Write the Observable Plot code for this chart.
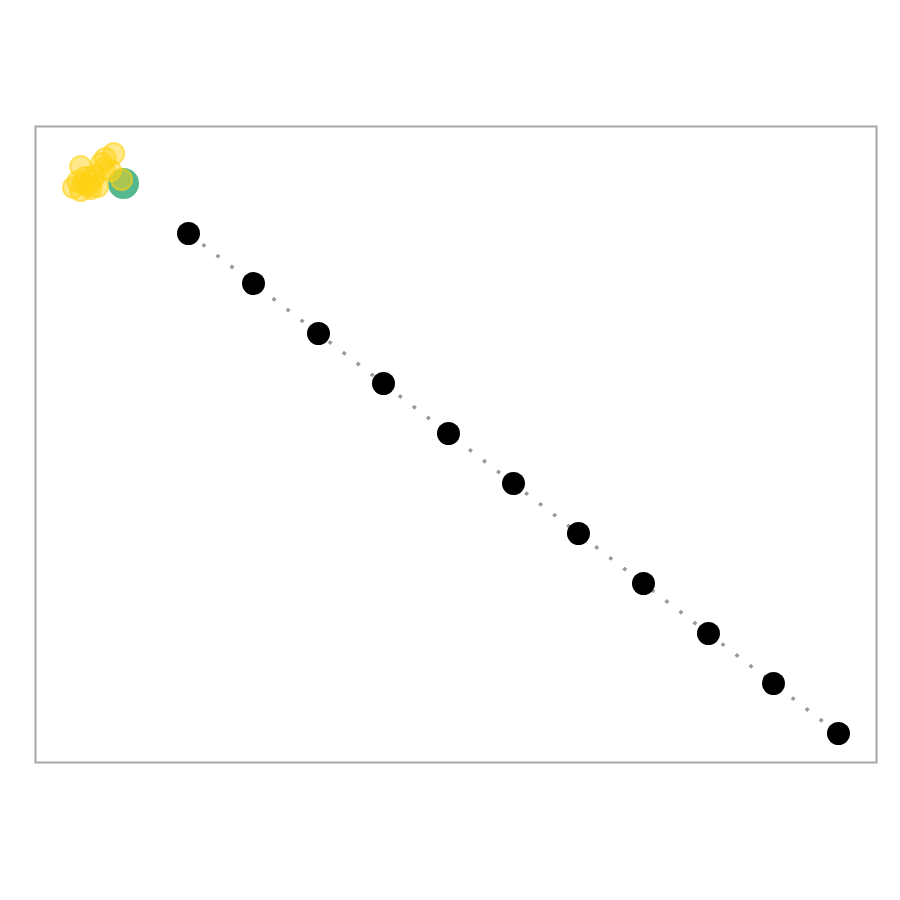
<!DOCTYPE html>
<html>
<head>
<meta charset="utf-8">
<script src="https://cdn.jsdelivr.net/npm/d3@7"></script>
<script src="https://cdn.jsdelivr.net/npm/@observablehq/plot@0.6"></script>
<style>
  html, body { margin: 0; padding: 0; background: #fff; }
  #chart { width: 900px; height: 900px; }
</style>
</head>
<body>
<div id="chart"></div>
<script>
// Path steps (black markers), start point (green), and cluster samples (yellow)
const pathX = [1, 2, 3, 4, 5, 6, 7, 8, 9, 10, 11];
const pathY = [-1, -2, -3, -4, -5, -6, -7, -8, -9, -10, -11];
const startX = [0];
const startY = [0];
const clusterX = [-0.15, -0.28, -0.34, -0.66, -0.03, -0.77, -0.66, -0.54, -0.40, -0.585, -0.20, -0.48, -0.62, -0.50, -0.70, -0.45, -0.30];
const clusterY = [0.60, 0.50, 0.40, 0.34, 0.08, -0.08, -0.14, -0.04, -0.06, 0.12, 0.26, 0.06, 0.00, -0.10, 0.04, 0.16, 0.30];

const path = pathX.map((x, i) => ({x, y: pathY[i]}));
const start = startX.map((x, i) => ({x, y: startY[i]}));
const cluster = clusterX.map((x, i) => ({x, y: clusterY[i]}));

const chart = Plot.plot({
  width: 900,
  height: 900,
  marginLeft: 35,
  marginRight: 24,
  marginTop: 126,
  marginBottom: 138,
  x: {domain: [-1.354, 11.585], axis: null},
  y: {domain: [-11.58, 1.14], axis: null},
  marks: [
    Plot.frame({stroke: "#a6a6a6", strokeWidth: 2}),
    Plot.line(path, {x: "x", y: "y", stroke: "#999999", strokeWidth: 3.5, strokeLinecap: "butt", strokeDasharray: "3.5,14.2"}),
    Plot.dot(start, {x: "x", y: "y", r: 15.5, fill: "#55b88f", stroke: "none"}),
    Plot.dot(cluster, {x: "x", y: "y", r: 10.5, fill: "#ffd214", fillOpacity: 0.5, stroke: "#ffd214", strokeOpacity: 0.6, strokeWidth: 2}),
    Plot.dot(path, {x: "x", y: "y", r: 11.5, fill: "#000000", stroke: "none"})
  ]
});
document.getElementById("chart").appendChild(chart);
</script>
</body>
</html>
